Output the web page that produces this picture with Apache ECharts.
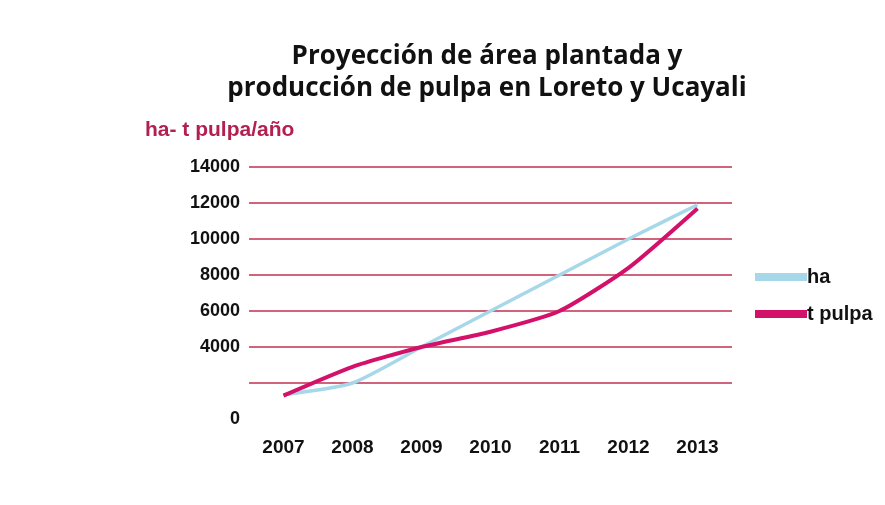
<!DOCTYPE html>
<html>
<head>
<meta charset="utf-8">
<script src="https://cdn.jsdelivr.net/npm/echarts@6/dist/echarts.min.js"></script>
<style>
  html, body { margin: 0; padding: 0; background: #fff; }
  #chart { width: 885px; height: 505px; }
</style>
</head>
<body>
<div id="chart"></div>
<script>
// datos
const years = ["2007", "2008", "2009", "2010", "2011", "2012", "2013"];
const haData = [1350, 2000, 4000, 6000, 8000, 10000, 11900];
const pulpaData = [1300, 2900, 4000, 4850, 6000, 8400, 11700];
const hiddenTicks = [2000];

const gridColor = "#c2304e";
const myChart = echarts.init(document.getElementById("chart"));

const option = {
  backgroundColor: "#fff",
  title: {
    text: "Proyección de área plantada y\nproducción de pulpa en Loreto y Ucayali",
    left: 482,
    top: 36,
    textAlign: "center",
    textStyle: {
      fontFamily: "Open Sans",
      fontWeight: "bold",
      fontSize: 26,
      lineHeight: 32,
      color: "#111",
    },
  },
  legend: {
    orient: "vertical",
    left: 750,
    top: 262,
    itemWidth: 52,
    itemHeight: 8,
    itemGap: 17,
    icon: "rect",
    data: ["ha", "t pulpa"],
    textStyle: {
      fontFamily: "Liberation Sans",
      fontWeight: "bold",
      fontSize: 20,
      color: "#111",
      padding: [0, 0, 0, -5],
    },
  },
  grid: {
    left: 249,
    right: 153,
    top: 167,
    bottom: 86,
  },
  xAxis: {
    type: "category",
    data: years,
    boundaryGap: true,
    axisLine: { show: false },
    axisTick: { show: false },
    axisLabel: {
      margin: 19,
      fontFamily: "Liberation Sans",
      fontWeight: "bold",
      fontSize: 19,
      color: "#111",
    },
  },
  yAxis: {
    type: "value",
    min: 0,
    max: 14000,
    interval: 2000,
    name: "ha- t pulpa/año",
    nameLocation: "end",
    nameGap: 26,
    nameTextStyle: {
      align: "left",
      padding: [0, 0, 0, -104],
      fontFamily: "Liberation Sans",
      fontWeight: "bold",
      fontSize: 21,
      color: "#b3204f",
    },
    axisLine: { show: false },
    axisTick: { show: false },
    axisLabel: {
      margin: 9,
      fontFamily: "Liberation Sans",
      fontWeight: "bold",
      fontSize: 18,
      color: "#111",
      formatter: (v) => (hiddenTicks.includes(v) ? "" : String(v)),
    },
    splitLine: {
      lineStyle: {
        color: ["rgba(0,0,0,0)", gridColor, gridColor, gridColor, gridColor, gridColor, gridColor, gridColor],
        width: 1.5,
      },
    },
  },
  series: [
    {
      name: "ha",
      type: "line",
      data: haData,
      smooth: 0.2,
      showSymbol: false,
      itemStyle: { color: "#a6d8ea" },
      lineStyle: { width: 3.5, color: "#a6d8ea" },
      z: 2,
    },
    {
      name: "t pulpa",
      type: "line",
      data: pulpaData,
      smooth: 0.2,
      showSymbol: false,
      itemStyle: { color: "#d4116a" },
      lineStyle: { width: 4, color: "#d4116a" },
      z: 3,
    },
  ],
};

myChart.setOption(option);
</script>
</body>
</html>
